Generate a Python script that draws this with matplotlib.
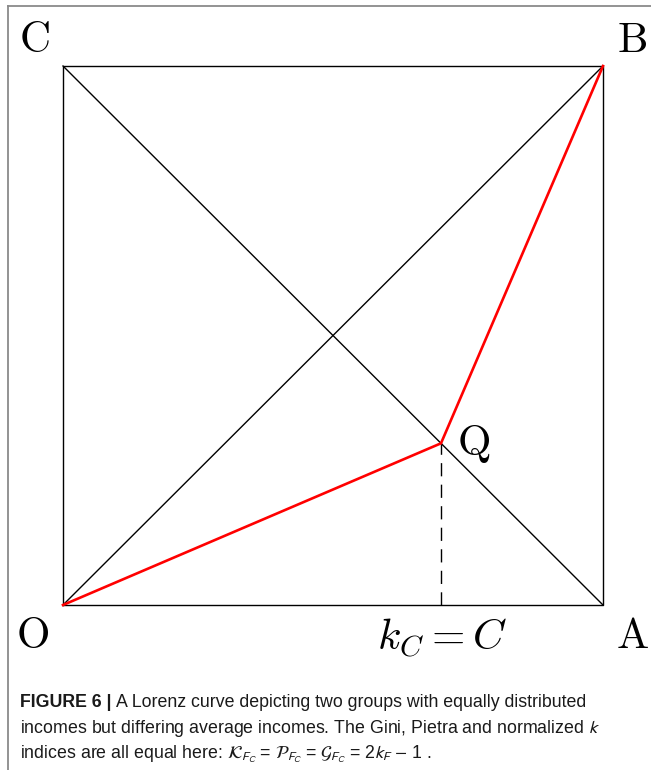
import matplotlib
matplotlib.use("Agg")
import matplotlib.pyplot as plt
from matplotlib.lines import Line2D
from matplotlib import font_manager

# Data
corner_names = ["O", "A", "B", "C"]
corner_x = [0.0, 1.0, 1.0, 0.0]
corner_y = [0.0, 0.0, 1.0, 1.0]
q_point = (0.7, 0.3)          # point Q on the Lorenz curve
lorenz_x = [0.0, 0.7, 1.0]
lorenz_y = [0.0, 0.3, 1.0]
kc_label = r"$k_C = C$"

caption_bold = "FIGURE 6 | "
caption_l1 = "A Lorenz curve depicting two groups with equally distributed"
caption_l2 = "incomes but differing average incomes. The Gini, Pietra and normalized $k$"
caption_l3 = (r"indices are all equal here: $\mathcal{K}_{F_C}$ = $\mathcal{P}_{F_C}$ = "
              r"$\mathcal{G}_{F_C}$ = 2$k_F$ $-$ 1 .")

W, H = 651, 770
fig = plt.figure(figsize=(W / 100, H / 100), dpi=100)

def fx(px):
    return px / W

def fy(py):
    return 1 - py / H

ax = fig.add_axes([fx(63), fy(605), fx(603) - fx(63), fy(66) - fy(605)])
ax.set_xlim(0, 1)
ax.set_ylim(0, 1)
ax.axis("off")

blk = dict(color="black", lw=1.0, solid_capstyle="projecting", clip_on=False)
# square
ax.plot([0, 1, 1, 0, 0], [0, 0, 1, 1, 0], **blk)
# diagonals
ax.plot([0, 1], [0, 1], **blk)
ax.plot([0, 1], [1, 0], **blk)
# dashed vertical from Q
ax.plot([q_point[0], q_point[0]], [0, q_point[1]], color="black", lw=1.0,
        linestyle=(0, (9.5, 6)), clip_on=False)
# Lorenz curve
ax.plot(lorenz_x, lorenz_y, color="#ff0000", lw=1.9, solid_joinstyle="miter",
        clip_on=False)

# labels
lab = dict(fontsize=31, math_fontfamily="cm", ha="center", va="center", color="black")
fig.text(fx(34), fy(40), r"$\mathrm{C}$", **lab)
fig.text(fx(632), fy(40), r"$\mathrm{B}$", **lab)
fig.text(fx(33), fy(636), r"$\mathrm{O}$", **lab)
fig.text(fx(632), fy(636), r"$\mathrm{A}$", **lab)
fig.text(fx(474), fy(444), r"$\mathrm{Q}$", **lab)
fig.text(fx(442), fy(638), kc_label, **lab)

# frame lines (gray)
fig.add_artist(Line2D([fx(8), 1.0], [fy(6), fy(6)], color="#8a8a8a", lw=1.3))
fig.add_artist(Line2D([fx(8), fx(8)], [fy(6), 0.0], color="#8a8a8a", lw=1.3))

# caption font
fam = "Liberation Sans"
for cand in ["Liberation Sans Narrow", "Liberation Sans"]:
    try:
        font_manager.findfont(cand, fallback_to_default=False)
        fam = cand
        break
    except Exception:
        pass

cap = dict(fontsize=12.75, family=fam, math_fontfamily="stixsans", va="baseline",
           color="#1a1a1a")
renderer = fig.canvas.get_renderer()
t0 = fig.text(fx(20), fy(707), caption_bold, fontweight="bold", **cap)
bb = t0.get_window_extent(renderer)
fig.text(bb.x1 / W, fy(707), caption_l1, **cap)
fig.text(fx(20), fy(733), caption_l2, **cap)
fig.text(fx(20), fy(759), caption_l3, **cap)

fig.savefig("out.png", dpi=100)
